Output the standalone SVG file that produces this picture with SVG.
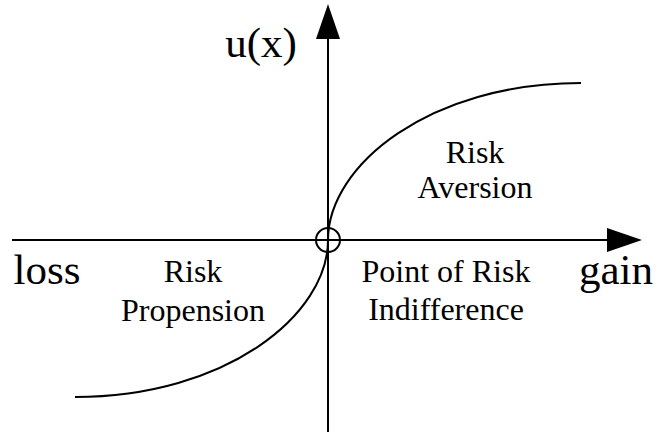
<svg xmlns="http://www.w3.org/2000/svg" width="655" height="437" viewBox="0 0 655 437">
<style>
.ax{stroke:#000;stroke-width:2;fill:none}
.cv{stroke:#000;stroke-width:2;fill:none}
.t{font-family:"Liberation Serif","Times New Roman",serif;fill:#000;text-anchor:middle}
.lbl{font-size:32px}
.big{font-size:43px}
</style>
<rect width="655" height="437" fill="#fff"/>
<g id="connectors">
<line class="ax" x1="12" y1="240" x2="610" y2="240"/>
<polygon points="642,240 607,228 607,252" fill="#000"/>
<line class="ax" x1="328" y1="36" x2="328" y2="432"/>
<polygon points="328,4 316,39 340,39" fill="#000"/>
<path class="cv" d="M328,240 C328,165 430,83 581,83"/>
<path class="cv" d="M328,240 C328,315 226,397 75,397"/>
</g>
<g id="origin"><circle cx="328" cy="240" r="12" fill="none" stroke="#000" stroke-width="2"/></g>
<g id="ux"><text class="t big" x="261" y="57">u(x)</text></g>
<g id="loss"><text class="t big" x="47" y="284">loss</text></g>
<g id="gain"><text class="t big" x="616" y="284">gain</text></g>
<g id="risk-aversion"><text class="t lbl" x="475" y="163">Risk</text><text class="t lbl" x="475" y="198">Aversion</text></g>
<g id="risk-propension"><text class="t lbl" x="193" y="282">Risk</text><text class="t lbl" x="193" y="321">Propension</text></g>
<g id="risk-indifference"><text class="t lbl" x="446" y="282">Point of Risk</text><text class="t lbl" x="446" y="320">Indifference</text></g>
</svg>
